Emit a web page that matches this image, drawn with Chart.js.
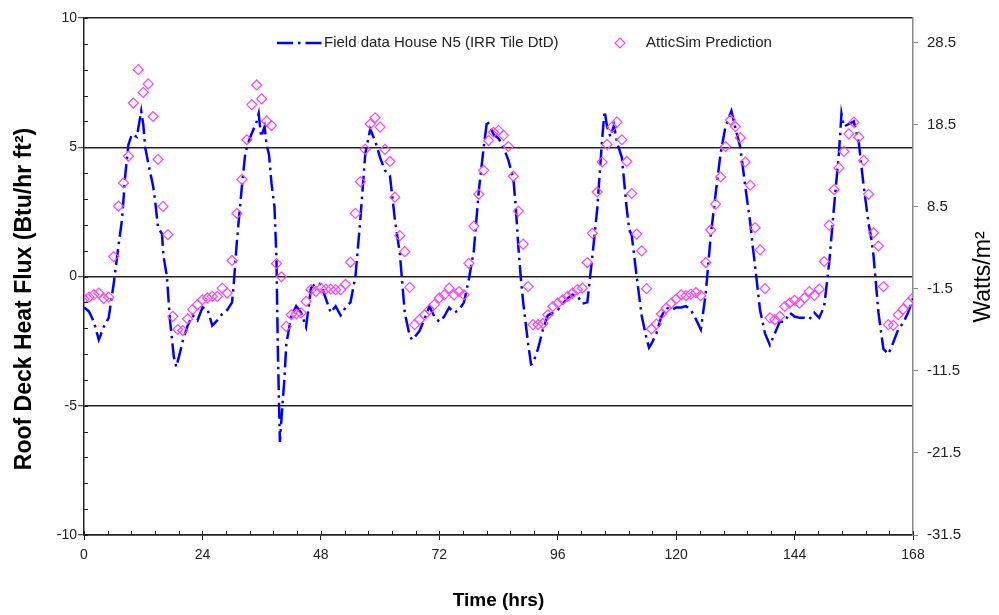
<!DOCTYPE html>
<html>
<head>
<meta charset="utf-8">
<title>Roof Deck Heat Flux</title>
<script src="https://cdn.jsdelivr.net/npm/chart.js@4.4.1/dist/chart.umd.min.js"></script>
<style>
  body { margin: 0; background: #fff; }
  #wrap { width: 999px; height: 615px; }
</style>
</head>
<body>
<div id="wrap"><canvas id="flux" width="999" height="615"></canvas></div>
<script>
// Field data House N5, Btu/hr ft2 (hours are not evenly spaced where the curve is sharp)
const fieldHours = [
  0, 1, 2, 3, 4, 5, 6, 7, 7.7, 8.4, 9, 9.7, 10.7, 11.6, 12, 12.4, 13, 14, 14.4, 15, 15.8, 16.1, 16.8, 17.4, 18.2, 18.7, 19.5,
  20, 21, 22, 23, 24, 25, 26, 27, 28, 29, 30, 30.3, 31, 32, 32.7, 33.7, 35, 35.4, 35.9, 36.6, 37, 37.5, 38, 38.6,
  39, 39.3, 39.7, 40.2, 40.6, 41, 42, 43, 44, 45, 46, 47, 48, 49, 50, 51, 52, 53, 54, 55, 56, 57, 58, 59,
  60, 61, 62, 63, 64, 65, 66, 66.5, 67, 68, 69, 70, 71, 72, 73, 74, 75, 76, 77, 78, 79, 80, 81, 81.7, 82,
  83, 84, 85, 86, 87, 87.5, 88, 88.5, 89, 90, 90.6, 91, 92, 93, 94, 95, 96, 97, 98, 99, 100, 101, 102, 103,
  104, 105, 105.5, 106, 106.7, 107.4, 108, 109, 110, 110.5, 111, 111.5, 112, 113, 114, 114.5, 115, 116, 117,
  118, 119, 120, 121, 122, 123, 124, 125, 126, 127, 128, 129, 130, 131.2, 132, 133, 134, 135, 135.5, 136,
  137, 138, 139, 140, 141, 142, 143, 144, 145, 146, 147, 148, 149, 150, 151, 152, 153, 153.5, 154, 155,
  156, 157, 158, 159, 159.6, 160, 161, 162, 163, 164, 165, 166, 167, 168
];
const fieldFlux = [
  -1.2, -1.35, -1.75, -2.45, -1.95, -1.6, -0.3, 1.2, 2.2, 4.0, 5.1, 5.5, 5.4, 6.4, 5.9, 5.0, 4.4, 3.5, 2.95, 1.9, 1.65, 0.8, 0.0, -1.65, -3.1, -3.5, -2.9,
  -2.5, -1.9, -1.5, -1.7, -1.2, -1.25, -1.9, -1.7, -1.45, -1.3, -1.0, -0.4, 1.4, 3.5, 4.8, 5.4, 6.0, 6.3, 5.4, 5.8, 5.1, 4.7, 3.6, 2.7,
  0.7, -3.0, -6.4, -5.0, -4.0, -2.6, -1.55, -1.15, -1.4, -1.95, -0.45, -0.25, -0.3, -0.85, -1.4, -1.15, -1.5, -1.2, -1.0, 0.0, 2.2, 4.75, 5.7, 5.25,
  4.6, 4.1, 3.9, 2.2, 0.9, -1.4, -2.3, -2.45, -2.35, -2.1, -1.65, -1.15, -1.55, -1.75, -1.55, -1.2, -1.4, -1.3, -1.0, -0.1, 1.0, 3.3, 5.0, 6.05, 5.9,
  5.5, 5.35, 5.0, 4.5, 3.8, 2.7, 1.2, 0.0, -1.0, -2.6, -3.4, -3.35, -2.8, -2.05, -1.5, -1.4, -1.3, -1.05, -0.85, -0.7, -0.75, -1.05, -1.0, 0.75,
  2.6, 5.3, 6.4, 5.8, 5.4, 5.85, 5.2, 4.6, 2.6, 1.8, 1.6, 0.8, 0.0, -1.5, -2.4, -2.75, -2.6, -2.2, -1.55,
  -1.2, -1.3, -1.2, -1.2, -1.15, -1.3, -1.65, -2.05, -0.65, 1.55, 3.2, 4.75, 5.8, 6.4, 5.75, 5.0, 3.5, 2.1, 1.2, 0.4,
  -1.3, -2.2, -2.65, -2.2, -1.75, -1.75, -1.4, -1.55, -1.6, -1.6, -1.65, -1.4, -1.6, -1.15, 0.5, 2.7, 4.8, 6.3, 5.8, 5.9,
  6.0, 5.2, 3.5, 2.05, 1.4, 0.8, -1.4, -2.8, -3.0, -2.55, -2.05, -1.8, -1.4, -0.85
];

// AtticSim prediction, one value per hour from 0 to 168
const simFlux = [
  -0.87, -0.8, -0.7, -0.64, -0.85, -0.8, 0.77, 2.72, 3.62, 4.65, 6.71, 8.0,       // 0-11
  7.12, 7.45, 6.19, 4.53, 2.71, 1.62, -1.54, -2.05, -2.09, -1.64, -1.28, -1.09,  // 12-23
  -0.9, -0.83, -0.77, -0.77, -0.45, -0.64, 0.62, 2.44, 3.76, 5.29, 6.65, 7.41,    // 24-35
  6.87, 6.01, 5.84, 0.5, -0.01, -1.93, -1.48, -1.45, -1.41, -0.96, -0.51, -0.58, // 36-47
  -0.45, -0.49, -0.49, -0.51, -0.51, -0.3, 0.55, 2.44, 3.67, 4.92, 5.9, 6.14,    // 48-59
  5.78, 4.92, 4.45, 3.07, 1.58, 0.96, -0.42, -1.86, -1.67, -1.48, -1.28, -1.09,  // 60-71
  -0.83, -0.71, -0.45, -0.71, -0.58, -0.71, 0.51, 1.95, 3.18, 4.11, 5.26, 5.58,  // 72-83
  5.65, 5.46, 5.03, 3.88, 2.53, 1.25, -0.39, -1.86, -1.86, -1.82, -1.48, -1.16,  // 84-95
  -1.03, -0.9, -0.77, -0.64, -0.51, -0.45, 0.54, 1.67, 3.27, 4.43, 5.11, 5.78,   // 96-107
  5.97, 5.29, 4.45, 3.21, 1.64, 0.99, -0.47, -2.03, -1.84, -1.45, -1.22, -1.03,  // 108-119
  -0.87, -0.71, -0.74, -0.68, -0.62, -0.74, 0.54, 1.8, 2.8, 3.85, 5.03, 6.06,    // 120-131
  5.8, 5.37, 4.43, 3.53, 1.89, 1.03, -0.47, -1.6, -1.67, -1.54, -1.16, -1.03,    // 132-143
  -0.92, -1.03, -0.83, -0.58, -0.73, -0.49, 0.58, 1.99, 3.36, 4.2, 4.84, 5.52,   // 144-155
  5.97, 5.39, 4.49, 3.18, 1.69, 1.18, -0.39, -1.86, -1.89, -1.48, -1.26, -1.03,  // 156-167
  -0.83                                                                          // 168
];
const simHours = simFlux.map((v, i) => i);

// right axis in Watts/m2, same span as -10..10 Btu/hr ft2
const wattTicks = [-31.5, -21.5, -11.5, -1.5, 8.5, 18.5, 28.5];

const FONT = "'Liberation Sans', Arial, sans-serif";
const minorStepY = 1;     // Btu/hr ft2
const minorStepX = 4.8;   // hours

// inside tick marks, axis titles and the legend box inside the plot
const axisDecor = {
  id: 'axisDecor',
  afterDraw(chart) {
    const { ctx, chartArea: a, scales: { x, y } } = chart;
    ctx.save();
    ctx.strokeStyle = '#222';
    ctx.lineWidth = 1;
    ctx.beginPath();
    for (let i = 0; i <= 20; i++) {
      const py = Math.round(y.getPixelForValue(y.min + i * minorStepY)) + 0.5;
      ctx.moveTo(a.left, py);
      ctx.lineTo(a.left + 4, py);
    }
    for (let i = 0; i <= 35; i++) {
      const px = Math.round(x.getPixelForValue(i * minorStepX)) + 0.5;
      ctx.moveTo(px, a.bottom);
      ctx.lineTo(px, a.bottom - 4);
    }
    ctx.stroke();

    // axis titles
    ctx.fillStyle = '#000';
    ctx.textAlign = 'center';
    ctx.textBaseline = 'middle';
    ctx.save();
    ctx.translate(25, 299);
    ctx.rotate(-Math.PI / 2);
    ctx.font = 'bold 23px ' + FONT;
    ctx.fillText('Roof Deck Heat Flux (Btu/hr ft\u00B2)', 0, 0);
    ctx.restore();
    ctx.save();
    ctx.translate(984, 277);
    ctx.rotate(-Math.PI / 2);
    ctx.font = '23px ' + FONT;
    ctx.fillText('Watts/m\u00B2', 0, 0);
    ctx.restore();

    // legend
    const sim = chart.data.datasets[0];
    const field = chart.data.datasets[1];
    const ly = 43;
    ctx.strokeStyle = field.borderColor;
    ctx.lineWidth = field.borderWidth;
    ctx.setLineDash(field.borderDash);
    ctx.beginPath();
    ctx.moveTo(277, ly);
    ctx.lineTo(322, ly);
    ctx.stroke();
    ctx.setLineDash([]);

    ctx.strokeStyle = sim.pointBorderColor;
    ctx.lineWidth = sim.pointBorderWidth;
    const r = sim.pointRadius;
    ctx.beginPath();
    ctx.moveTo(620 - r, ly);
    ctx.lineTo(620, ly - r);
    ctx.lineTo(620 + r, ly);
    ctx.lineTo(620, ly + r);
    ctx.closePath();
    ctx.stroke();

    ctx.fillStyle = '#222';
    ctx.textAlign = 'left';
    ctx.font = '15px ' + FONT;
    ctx.fillText(field.label, 324, ly);
    ctx.fillText(sim.label, 646, ly);
    ctx.restore();
  }
};

const ctx = document.getElementById('flux').getContext('2d');

new Chart(ctx, {
  type: 'line',
  data: {
    datasets: [{
      label: 'AtticSim Prediction',
      data: simHours.map((h, i) => ({ x: h, y: simFlux[i] })),
      showLine: false,
      pointStyle: 'rectRot',
      pointRadius: 5,
      pointBorderWidth: 1.2,
      pointBorderColor: '#ff40ff',
      pointBackgroundColor: 'rgba(0,0,0,0)',
      borderColor: '#ff40ff',
      order: 0
    }, {
      label: 'Field data House N5 (IRR Tile DtD)',
      data: fieldHours.map((h, i) => ({ x: h, y: fieldFlux[i] })),
      borderColor: '#0000ff',
      borderWidth: 2.5,
      borderDash: [16, 5, 2.5, 5],
      borderCapStyle: 'butt',
      pointRadius: 0,
      tension: 0,
      fill: false,
      order: 1
    }]
  },
  options: {
    responsive: false,
    animation: false,
    events: [],
    layout: { padding: { top: 16, left: 0, right: 0, bottom: 0 } },
    plugins: {
      legend: { display: false },
      tooltip: { enabled: false }
    },
    scales: {
      x: {
        type: 'linear',
        min: 0,
        max: 168,
        afterFit: s => { s.height = 80; },
        ticks: { stepSize: 24, padding: 7, color: '#222', font: { family: FONT, size: 14 } },
        grid: { drawOnChartArea: false, tickLength: 5, tickColor: '#222', tickWidth: 1 },
        border: { color: '#222', width: 1.5 },
        title: {
          display: true,
          text: 'Time (hrs)',
          color: '#000',
          font: { family: FONT, size: 19, weight: 'bold' },
          padding: { top: 0, bottom: 3 }
        }
      },
      y: {
        position: 'left',
        min: -10,
        max: 10,
        afterFit: s => { s.width = 84; },
        ticks: { stepSize: 5, padding: 1, color: '#222', font: { family: FONT, size: 14 } },
        grid: { color: '#222', lineWidth: 1.5, tickLength: 6, tickColor: '#222', tickWidth: 1 },
        border: { color: '#222', width: 1.5 }
      },
      y2: {
        position: 'right',
        min: -31.5,
        max: 31.5,
        afterFit: s => { s.width = 86; },
        afterBuildTicks: s => { s.ticks = wattTicks.map(v => ({ value: v })); },
        ticks: {
          padding: 9,
          color: '#222',
          font: { family: FONT, size: 15 },
          callback: v => v.toFixed(1)
        },
        grid: { drawOnChartArea: false, tickLength: 5, tickColor: '#888', tickWidth: 1 },
        border: { color: '#888', width: 1.5 }
      }
    }
  },
  plugins: [axisDecor]
});
</script>
</body>
</html>
